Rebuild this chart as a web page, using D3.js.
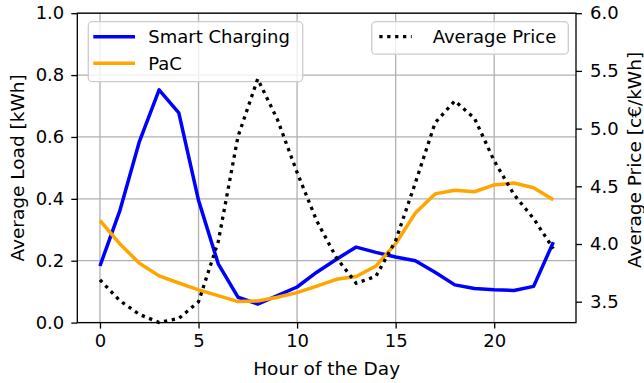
<!DOCTYPE html>
<html lang="en">
<head>
    <meta charset="UTF-8">
    <title>Average load and price</title>
    <style>
        body { margin: 0; background: #fff; }
        text { font-family: "DejaVu Sans", sans-serif; fill: #000; }
    </style>
</head>
<body>
    <script src="https://cdn.jsdelivr.net/npm/d3@7"></script>
    <script>
        // hourly values
        var hours = d3.range(0, 24);
        var smartCharging = [0.183, 0.36, 0.585, 0.752, 0.678, 0.395, 0.19, 0.082, 0.06, 0.087, 0.115, 0.163, 0.205, 0.244, 0.227, 0.212, 0.2, 0.163, 0.122, 0.11, 0.106, 0.104, 0.117, 0.26];
        var pac = [0.33, 0.255, 0.192, 0.151, 0.128, 0.106, 0.087, 0.068, 0.07, 0.082, 0.097, 0.118, 0.14, 0.149, 0.183, 0.255, 0.354, 0.416, 0.428, 0.423, 0.445, 0.451, 0.436, 0.397];
        var avgPrice = [3.69, 3.51, 3.39, 3.32, 3.355, 3.5, 4.02, 4.93, 5.43, 5.08, 4.62, 4.2, 3.88, 3.66, 3.72, 4.03, 4.53, 5.05, 5.24, 5.09, 4.72, 4.43, 4.22, 3.96];

        var xTicks = [0, 5, 10, 15, 20];
        var loadTicks = [0, 0.2, 0.4, 0.6, 0.8, 1.0];
        var priceTicks = [3.5, 4.0, 4.5, 5.0, 5.5, 6.0];

        var width = 644, height = 383;
        var pL = 77.3, pR = 576, pT = 13.2, pB = 322.6;

        var svg = d3.select('body').append('svg').attr('width', width).attr('height', height);

        var x = d3.scaleLinear().domain([-1.15, 24.15]).range([pL, pR]);
        var yLoad = d3.scaleLinear().domain([0, 1]).range([pB, pT]);
        var yPrice = d3.scaleLinear().domain([3.319, 6.0]).range([pB, pT]);

        // grid
        var grid = svg.append('g').attr('stroke', '#b0b0b0').attr('stroke-width', 1.3);
        grid.selectAll('.vx').data(xTicks).enter().append('line')
            .attr('x1', d => x(d)).attr('x2', d => x(d)).attr('y1', pT).attr('y2', pB);
        grid.selectAll('.hy').data(loadTicks).enter().append('line')
            .attr('x1', pL).attr('x2', pR).attr('y1', d => yLoad(d)).attr('y2', d => yLoad(d));

        var line = function (yScale, vals) {
            return d3.line().x((d, i) => x(hours[i])).y(d => yScale(d))(vals);
        };

        svg.append('path').attr('d', line(yLoad, smartCharging))
            .attr('fill', 'none').attr('stroke', 'blue').attr('stroke-width', 3.5).attr('stroke-linejoin', 'round');
        svg.append('path').attr('d', line(yLoad, pac))
            .attr('fill', 'none').attr('stroke', 'orange').attr('stroke-width', 3.5).attr('stroke-linejoin', 'round');

        // axes
        var xAxis = d3.axisBottom(x).tickValues(xTicks).tickSize(6).tickPadding(6).tickFormat(d3.format('d'));
        var yAxisL = d3.axisLeft(yLoad).tickValues(loadTicks).tickSize(6).tickPadding(7).tickFormat(d3.format('.1f'));
        var yAxisR = d3.axisRight(yPrice).tickValues(priceTicks).tickSize(6).tickPadding(8).tickFormat(d3.format('.1f'));

        svg.append('g').attr('class', 'ax').attr('transform', 'translate(0,' + pB + ')').call(xAxis);
        svg.append('g').attr('class', 'ax').attr('transform', 'translate(' + pL + ',0)').call(yAxisL);
        svg.append('g').attr('class', 'ax').attr('transform', 'translate(' + pR + ',0)').call(yAxisR);
        svg.selectAll('.ax .domain').remove();
        svg.selectAll('.ax line').attr('stroke', '#000').attr('stroke-width', 1.3);
        svg.selectAll('.ax text').attr('font-size', 18).attr('font-family', 'DejaVu Sans').attr('fill', '#000');

        // frame
        svg.append('rect').attr('x', pL).attr('y', pT).attr('width', pR - pL).attr('height', pB - pT)
            .attr('fill', 'none').attr('stroke', '#000').attr('stroke-width', 1.3);

        // left legend
        var leg1 = svg.append('g');
        leg1.append('rect').attr('x', 88.3).attr('y', 21.7).attr('width', 214.4).attr('height', 60).attr('rx', 4)
            .attr('fill', 'white').attr('fill-opacity', 0.8).attr('stroke', '#cccccc').attr('stroke-width', 1.3);
        [['Smart Charging', 'blue'], ['PaC', 'orange']].forEach(function (s, i) {
            var yy = 36.7 + i * 26.6;
            leg1.append('line').attr('x1', 93.3).attr('x2', 135).attr('y1', yy).attr('y2', yy)
                .attr('stroke', s[1]).attr('stroke-width', 3.5);
            leg1.append('text').attr('x', 148.3).attr('y', yy).attr('dy', '0.36em').attr('font-size', 18).text(s[0]);
        });

        // price line (secondary axis, drawn on top)
        svg.append('path').attr('d', line(yPrice, avgPrice))
            .attr('fill', 'none').attr('stroke', '#000').attr('stroke-width', 3.3).attr('stroke-dasharray', '3.3,4.6');

        var leg2 = svg.append('g');
        leg2.append('rect').attr('x', 371.7).attr('y', 21.7).attr('width', 196.6).attr('height', 32.5).attr('rx', 4)
            .attr('fill', 'white').attr('fill-opacity', 0.8).attr('stroke', '#cccccc').attr('stroke-width', 1.3);
        leg2.append('line').attr('x1', 379.3).attr('x2', 411.7).attr('y1', 36.7).attr('y2', 36.7)
            .attr('stroke', '#000').attr('stroke-width', 3.3).attr('stroke-dasharray', '3.3,4.6');
        leg2.append('text').attr('x', 432.7).attr('y', 36.7).attr('dy', '0.36em').attr('font-size', 18).text('Average Price');

        // axis titles
        svg.append('text').attr('x', (pL + pR) / 2).attr('y', 375).attr('text-anchor', 'middle')
            .attr('font-size', 18.5).text('Hour of the Day');
        svg.append('text').attr('transform', 'translate(24,' + (pT + pB) / 2 + ') rotate(-90)')
            .attr('text-anchor', 'middle').attr('font-size', 18.5).text('Average Load [kWh]');
        svg.append('text').attr('transform', 'translate(641,160) rotate(-90)')
            .attr('text-anchor', 'middle').attr('font-size', 18.5).text('Average Price [c€/kWh]');
    </script>
</body>
</html>
